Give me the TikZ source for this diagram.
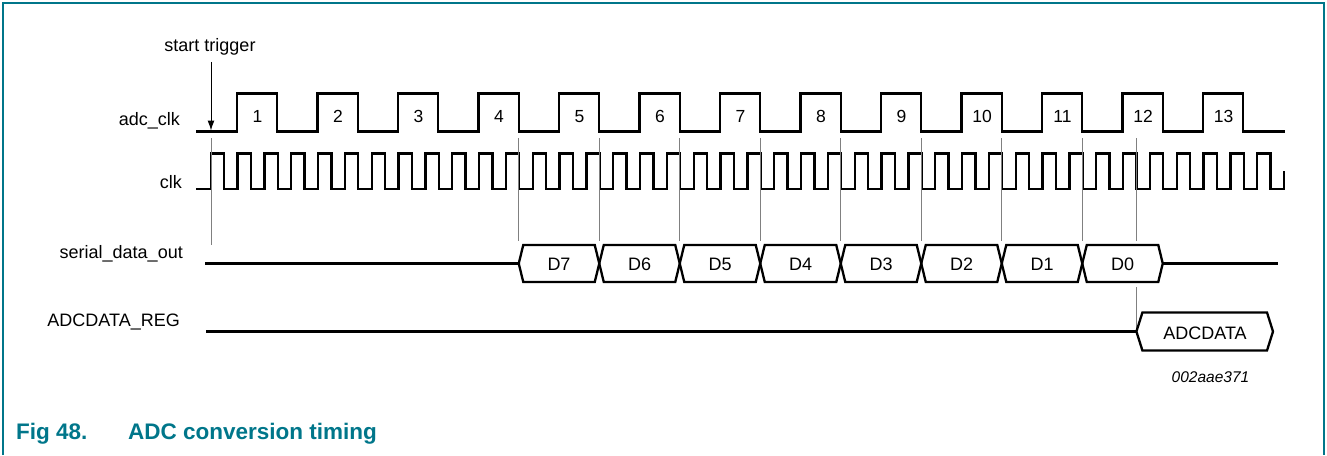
\documentclass[tikz,border=0pt]{standalone}
\usepackage{fontspec}
\setmainfont{Liberation Sans}
\usetikzlibrary{arrows.meta}

\definecolor{figteal}{RGB}{0,118,138}

\tikzset{
  wave/.style={line width=2.3pt, line join=miter},
  guide/.style={draw=gray, line width=1pt},
  siglabel/.style={anchor=base east, inner sep=0pt, font=\fontsize{18}{21}\selectfont},
  pulsenum/.style={anchor=base, inner sep=0pt, font=\fontsize{17.5}{21}\selectfont},
  boxlabel/.style={anchor=base, inner sep=0pt, font=\fontsize{18}{21}\selectfont},
  captext/.style={anchor=base west, inner sep=0pt, text=figteal, font=\bfseries\fontsize{22.5}{26}\selectfont},
}

\begin{document}
\begin{tikzpicture}[x=1pt, y=-1pt]
  \useasboundingbox (0,0) rectangle (1327,455);
  \draw[figteal, line width=1.5pt] (3,455) -- (3,3) -- (1324,3) -- (1324,455);

  % signal names
  \node[siglabel] (adcclk) at (180,125) {adc\_clk};
  \node[siglabel] (clk) at (182,188) {clk};
  \node[siglabel] (sdo) at (183,258) {serial\_data\_out};
  \node[siglabel] (reg) at (180,326) {ADCDATA\_REG};

  % start trigger
  \node[anchor=base, inner sep=0pt, font=\fontsize{18}{21}\selectfont] (trig) at (210,51.5) {start trigger};
  \coordinate (trigtip) at (211,130.5);
  \draw[line width=1pt, -{Latex[length=10pt,width=7pt]}] ([yshift=-6.5pt]trig.south -| trigtip) -- (trigtip);

  % adc_clk
  \draw[wave] (196,131.5) foreach \k in {0,...,12} {
      -- ({237+80.5*\k},131.5) -- ({237+80.5*\k},93.5)
      -- ({277.25+80.5*\k},93.5) -- ({277.25+80.5*\k},131.5)}
    -- (1285,131.5);
  \foreach \k in {1,...,13}
    \node[pulsenum] (p\k) at ({257.5+80.5*(\k-1)},122.5) {\k};

  % clk
  \draw[wave] (196,189) foreach \k in {0,...,39} {
      -- ({210.7+26.8333*\k},189) -- ({210.7+26.8333*\k},153.5)
      -- ({224.12+26.8333*\k},153.5) -- ({224.12+26.8333*\k},189)}
    -- (1284,189) -- (1284,171);

  % guides
  \draw[guide] (211,138) -- (211,245);
  \foreach \k in {4,...,11}
    \draw[guide] ({277.25+80.5*(\k-1)},138) -- ++(0,103);
  \draw[guide] (1136.4,138) -- (1136.4,241);
  \draw[guide] (1136.4,287) -- (1136.4,331.5);

  % serial_data_out
  \foreach \d [count=\i from 0] in {7,6,5,4,3,2,1,0} {
    \pgfmathsetmacro\xa{518.75+80.5*\i}
    \pgfmathsetmacro\xb{\xa+80.5}
    \coordinate (w\d) at (\xa,263.5);
    \coordinate (e\d) at (\xb,263.5);
    \draw[wave] (w\d) -- ({\xa+4.5},245) -- ({\xb-4.5},245)
      -- (e\d) -- ({\xb-4.5},282) -- ({\xa+4.5},282) -- cycle;
    \node[boxlabel] (d\d) at ({\xa+40.25},270.5) {D\d};
  }
  \coordinate (sdostart) at (205,263.5);
  \coordinate (sdoend) at (1278,263.5);
  \draw[wave] (sdostart) -- (w7);
  \draw[wave] (e0) -- (sdoend);

  % ADCDATA_REG
  \coordinate (regstart) at (206,331.5);
  \coordinate (regw) at (1136.4,331.5);
  \coordinate (rege) at (1273,331.5);
  \draw[wave] (regstart) -- (regw);
  \draw[wave] (regw) -- (1142.4,312.5) -- (1267,312.5) -- (rege)
    -- (1267,350.5) -- (1142.4,350.5) -- cycle;
  \node[boxlabel] (adcdata) at (1205,339) {ADCDATA};

  \node[anchor=base west, inner sep=0pt, font=\itshape\fontsize{15.5}{18}\selectfont] (figid) at (1171.5,382.5) {002aae371};

  % caption
  \node[captext] (fignum) at (16,439) {Fig 48.};
  \node[captext] (figtitle) at (128,439) {ADC conversion timing};
\end{tikzpicture}
\end{document}
